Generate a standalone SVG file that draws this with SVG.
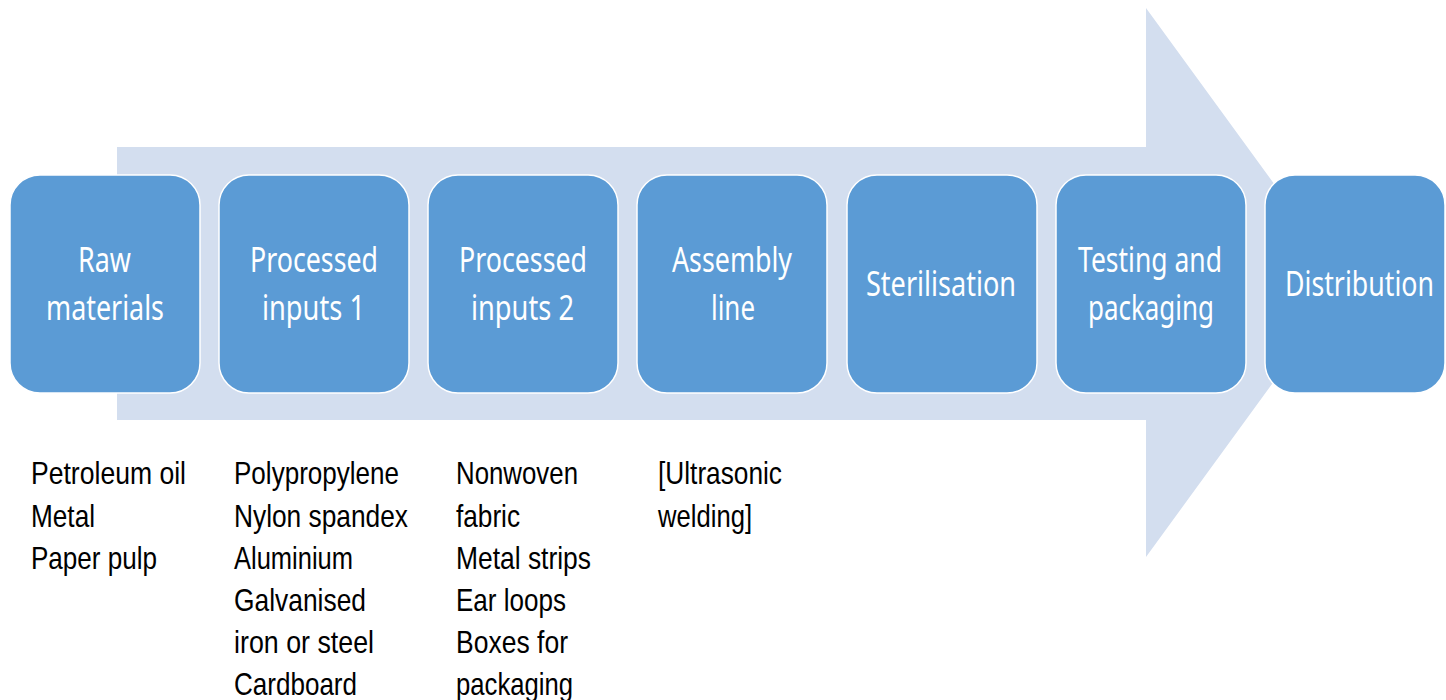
<svg xmlns="http://www.w3.org/2000/svg" width="1446" height="700" viewBox="0 0 1446 700">
<style>
.box{fill:#5B9BD5;stroke:#FFFFFF;stroke-width:1.5}
.lbl{font-family:"Noto Sans","Open Sans",sans-serif;font-size:35px;fill:#FFFFFF}
.note{font-family:"Liberation Sans",Arial,sans-serif;font-size:32px;fill:#000000}
</style>
<rect width="1446" height="700" fill="#FFFFFF"/>
<g id="connectors">
<polygon points="117,147 1146,147 1146,8 1346,282.5 1146,557 1146,420 117,420" fill="#D3DEEF"/>
</g>
<g id="n1"><rect class="box" x="10" y="175" width="190" height="218" rx="30"/>
<text class="lbl" x="78" y="272" textLength="53" lengthAdjust="spacingAndGlyphs">Raw</text>
<text class="lbl" x="46" y="320" textLength="118" lengthAdjust="spacingAndGlyphs">materials</text></g>
<g id="n2"><rect class="box" x="219" y="175" width="190" height="218" rx="30"/>
<text class="lbl" x="250" y="272" textLength="128" lengthAdjust="spacingAndGlyphs">Processed</text>
<text class="lbl" x="262" y="320" textLength="103" lengthAdjust="spacingAndGlyphs">inputs 1</text></g>
<g id="n3"><rect class="box" x="428" y="175" width="190" height="218" rx="30"/>
<text class="lbl" x="459" y="272" textLength="128" lengthAdjust="spacingAndGlyphs">Processed</text>
<text class="lbl" x="471" y="320" textLength="103" lengthAdjust="spacingAndGlyphs">inputs 2</text></g>
<g id="n4"><rect class="box" x="637" y="175" width="190" height="218" rx="30"/>
<text class="lbl" x="672" y="272" textLength="120" lengthAdjust="spacingAndGlyphs">Assembly</text>
<text class="lbl" x="711" y="320" textLength="44" lengthAdjust="spacingAndGlyphs">line</text></g>
<g id="n5"><rect class="box" x="847" y="175" width="190" height="218" rx="30"/>
<text class="lbl" x="866" y="296" textLength="150" lengthAdjust="spacingAndGlyphs">Sterilisation</text></g>
<g id="n6"><rect class="box" x="1056" y="175" width="190" height="218" rx="30"/>
<text class="lbl" x="1078" y="272" textLength="144" lengthAdjust="spacingAndGlyphs">Testing and</text>
<text class="lbl" x="1088" y="320" textLength="126" lengthAdjust="spacingAndGlyphs">packaging</text></g>
<g id="n7"><rect class="box" x="1265" y="175" width="180" height="218" rx="30"/>
<text class="lbl" transform="translate(1285,296) scale(0.78,1)" x="0" y="0" textLength="191" lengthAdjust="spacingAndGlyphs">Distribution</text></g>
<g id="notes1">
<text class="note" x="31" y="484" textLength="155" lengthAdjust="spacingAndGlyphs">Petroleum oil</text>
<text class="note" x="31" y="527" textLength="64" lengthAdjust="spacingAndGlyphs">Metal</text>
<text class="note" x="31" y="569" textLength="126" lengthAdjust="spacingAndGlyphs">Paper pulp</text>
</g>
<g id="notes2">
<text class="note" x="234" y="484" textLength="165" lengthAdjust="spacingAndGlyphs">Polypropylene</text>
<text class="note" x="234" y="527" textLength="174" lengthAdjust="spacingAndGlyphs">Nylon spandex</text>
<text class="note" x="234" y="569" textLength="119" lengthAdjust="spacingAndGlyphs">Aluminium</text>
<text class="note" x="234" y="611" textLength="132" lengthAdjust="spacingAndGlyphs">Galvanised</text>
<text class="note" x="234" y="653" textLength="140" lengthAdjust="spacingAndGlyphs">iron or steel</text>
<text class="note" x="234" y="695" textLength="123" lengthAdjust="spacingAndGlyphs">Cardboard</text>
</g>
<g id="notes3">
<text class="note" x="456" y="484" textLength="122" lengthAdjust="spacingAndGlyphs">Nonwoven</text>
<text class="note" x="456" y="527" textLength="64" lengthAdjust="spacingAndGlyphs">fabric</text>
<text class="note" x="456" y="569" textLength="135" lengthAdjust="spacingAndGlyphs">Metal strips</text>
<text class="note" x="456" y="611" textLength="110" lengthAdjust="spacingAndGlyphs">Ear loops</text>
<text class="note" x="456" y="653" textLength="112" lengthAdjust="spacingAndGlyphs">Boxes for</text>
<text class="note" x="456" y="695" textLength="117" lengthAdjust="spacingAndGlyphs">packaging</text>
</g>
<g id="notes4">
<text class="note" x="658" y="484" textLength="124" lengthAdjust="spacingAndGlyphs">[Ultrasonic</text>
<text class="note" x="658" y="527" textLength="94" lengthAdjust="spacingAndGlyphs">welding]</text>
</g>
</svg>
